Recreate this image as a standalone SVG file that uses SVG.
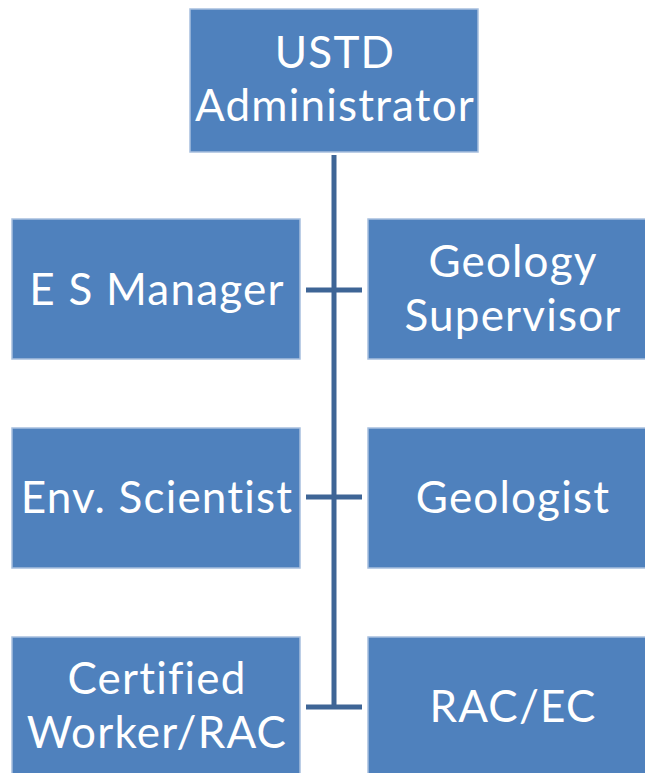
<svg xmlns="http://www.w3.org/2000/svg" width="645" height="773" viewBox="0 0 645 773">
<style>
.box{fill:#4F81BD;stroke:#A7BFDE;stroke-width:1.5}
.t{font-family:Lato,"Liberation Sans",sans-serif;font-size:44px;letter-spacing:1.2px;fill:#ffffff;text-anchor:middle}
.c{stroke:#3E6596;stroke-width:5;fill:none}
</style>
<rect width="645" height="773" fill="#ffffff"/>
<g id="connectors">
<line class="c" x1="334" y1="155" x2="334" y2="709"/>
<line class="c" x1="306" y1="290" x2="362" y2="290"/>
<line class="c" x1="306" y1="497" x2="362" y2="497"/>
<line class="c" x1="306" y1="707" x2="362" y2="707"/>
</g>
<g id="n_admin">
<rect class="box" x="190" y="9" width="288" height="143"/>
<text class="t" x="335" y="68">USTD</text>
<text class="t" x="335" y="121">Administrator</text>
</g>
<g id="n_esmanager">
<rect class="box" x="12" y="219" width="288" height="140"/>
<text class="t" x="157" y="305">E S Manager</text>
</g>
<g id="n_geosup">
<rect class="box" x="368" y="219" width="288" height="140"/>
<text class="t" x="513" y="277">Geology</text>
<text class="t" x="513" y="331">Supervisor</text>
</g>
<g id="n_envsci">
<rect class="box" x="12" y="428" width="288" height="140"/>
<text class="t" x="157" y="513">Env. Scientist</text>
</g>
<g id="n_geologist">
<rect class="box" x="368" y="428" width="288" height="140"/>
<text class="t" x="513" y="513">Geologist</text>
</g>
<g id="n_certified">
<rect class="box" x="12" y="637" width="288" height="140"/>
<text class="t" x="157" y="694">Certified</text>
<text class="t" x="157" y="748">Worker/RAC</text>
</g>
<g id="n_racec">
<rect class="box" x="368" y="637" width="288" height="140"/>
<text class="t" x="513" y="722">RAC/EC</text>
</g>
</svg>
